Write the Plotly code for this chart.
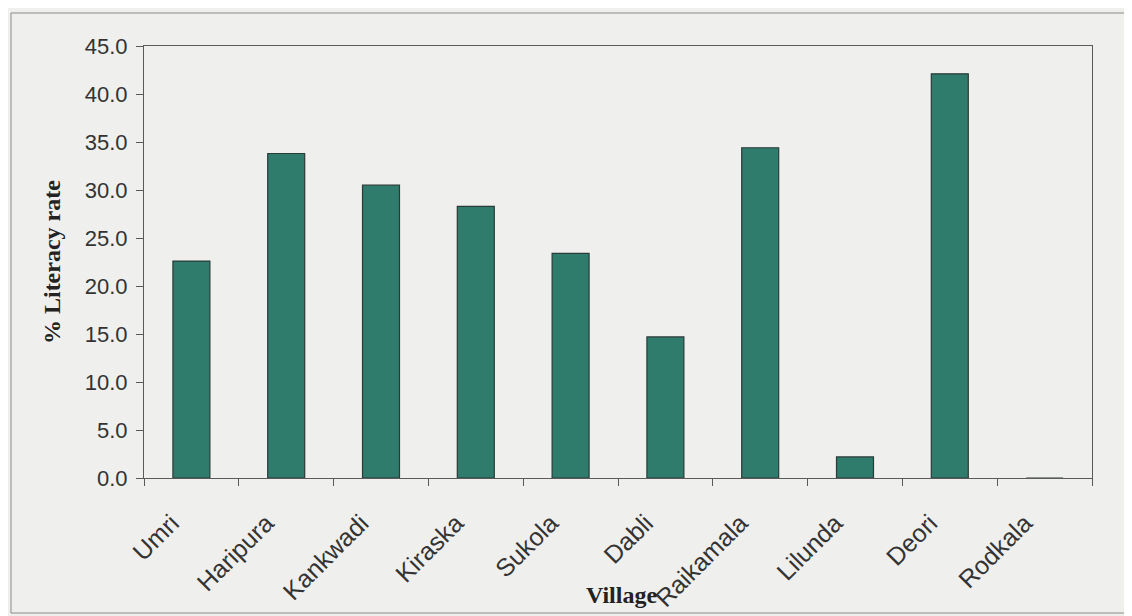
import plotly.graph_objects as go

villages = ["Umri", "Haripura", "Kankwadi", "Kiraska", "Sukola", "Dabli",
            "Raikamala", "Lilunda", "Deori", "Rodkala"]
literacy = [22.6, 33.8, 30.5, 28.3, 23.4, 14.7, 34.4, 2.2, 42.1, 0.0]
y_ticks = [0, 5, 10, 15, 20, 25, 30, 35, 40, 45]

# trailing no-break spaces shift the rotated labels down-left like Excel's anchoring
x_labels = [v + "\u00a0" * 4 for v in villages]

fig = go.Figure()
fig.add_trace(go.Bar(
    x=x_labels, y=literacy, width=0.39,
    marker=dict(color="#2f7b6c", line=dict(color="#2a3b38", width=1.2)),
))

axis_col = "#5a5a5a"
fig.update_layout(
    width=1132, height=616,
    margin=dict(l=136, r=48, t=38, b=146),
    paper_bgcolor="#efefed", plot_bgcolor="#efefed",
    showlegend=False,
    font=dict(family="Liberation Sans, Arial, sans-serif", color="#333333"),
    xaxis=dict(
        tickangle=-45, tickfont=dict(size=25), tickson="boundaries",
        ticks="outside", ticklen=7, tickcolor=axis_col, ticklabelstandoff=0,
        showline=True, linecolor=axis_col, linewidth=1, mirror=True,
        showgrid=False,
    ),
    yaxis=dict(
        range=[0, 45], tickvals=y_ticks, tickformat=".1f",
        tickfont=dict(size=22), ticks="outside", ticklen=7, tickcolor=axis_col,
        ticklabelstandoff=4,
        showline=True, linecolor=axis_col, linewidth=1, mirror=True,
        showgrid=False, zeroline=False,
    ),
    shapes=[
        dict(type="rect", xref="paper", yref="paper",
             x0=-0.1403, x1=1.039, y0=-0.3125, y1=1.0764,
             line=dict(color="#8a8a8a", width=1)),
    ],
    annotations=[
        dict(text="<b>% Literacy rate</b>", xref="paper", yref="paper",
             x=-0.097, y=0.5, xanchor="center", yanchor="middle",
             textangle=-90, showarrow=False,
             font=dict(family="Liberation Serif, Times New Roman, serif",
                       size=24, color="#222222")),
        dict(text="<b>Village</b>", xref="paper", yref="paper",
             x=0.504, y=-0.271, xanchor="center", yanchor="middle",
             showarrow=False,
             font=dict(family="Liberation Serif, Times New Roman, serif",
                       size=24, color="#222222")),
    ],
)

fig.write_html("out.html")
